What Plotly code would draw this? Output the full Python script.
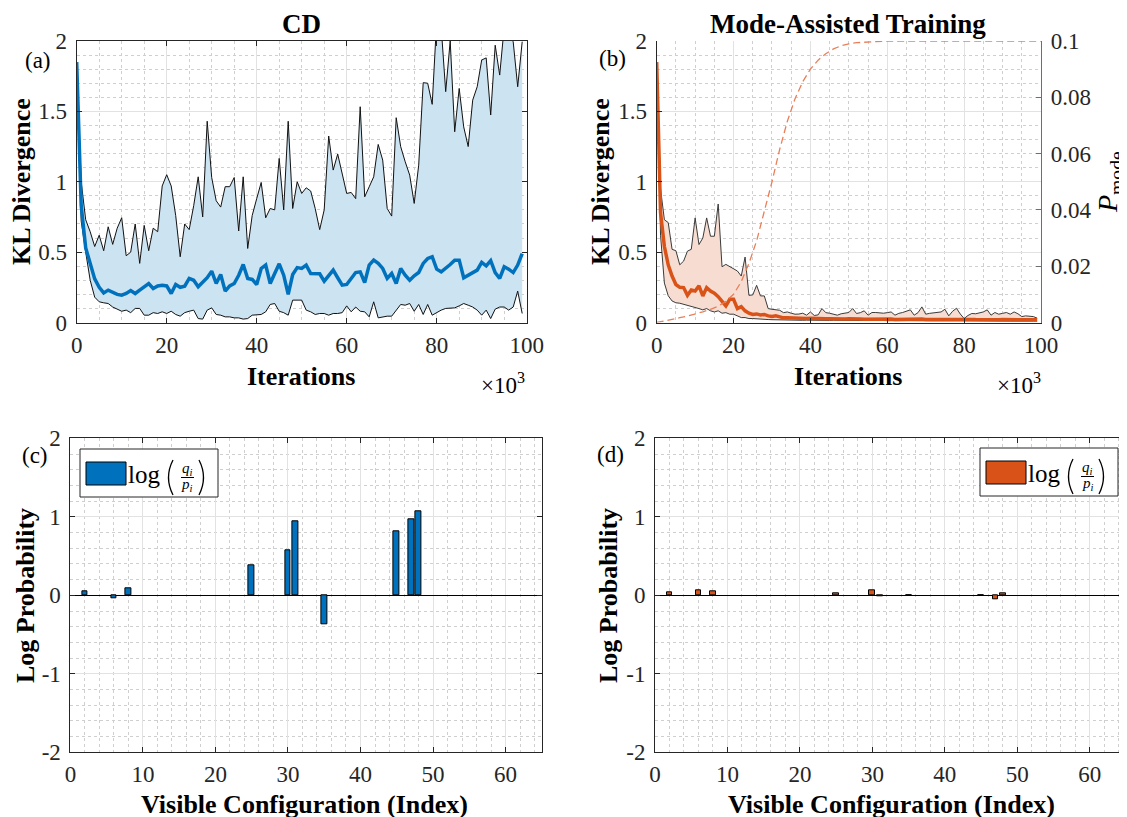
import plotly.graph_objects as go

W, H = 1127, 817
OFF = 8  # page body margin of the browser: figure is drawn 8px right/down
SERIF = "Liberation Serif"
BLUE = "#0072BD"
ORANGE = "#D95319"
BLUE_FILL = "#CCE3F2"
ORANGE_FILL = "#F7DDD1"

# ---------------- data ----------------
ITER_K = list(range(100))  # iterations, in thousands

CD_MEAN = [1.85, 0.83, 0.53, 0.41, 0.31, 0.25, 0.21, 0.23, 0.213, 0.20,
           0.194, 0.206, 0.227, 0.206, 0.23, 0.254, 0.277, 0.242, 0.26, 0.265,
           0.26, 0.206, 0.27, 0.25, 0.258, 0.313, 0.30, 0.254, 0.29, 0.318,
           0.365, 0.277, 0.341, 0.223, 0.26, 0.277, 0.336, 0.412, 0.313, 0.306,
           0.27, 0.384, 0.408, 0.277, 0.348, 0.417, 0.336, 0.20, 0.341, 0.39,
           0.384, 0.408, 0.348, 0.348, 0.346, 0.294, 0.336, 0.372, 0.318, 0.265,
           0.27, 0.313, 0.355, 0.36, 0.284, 0.408, 0.443, 0.42, 0.384, 0.313,
           0.348, 0.277, 0.384, 0.336, 0.30, 0.332, 0.355, 0.42, 0.455, 0.467,
           0.379, 0.36, 0.384, 0.412, 0.443, 0.443, 0.318, 0.336, 0.348, 0.372,
           0.427, 0.403, 0.44, 0.355, 0.313, 0.396, 0.379, 0.355, 0.408, 0.49]

CD_UPPER = [1.85, 1.0, 0.73, 0.645, 0.54, 0.62, 0.51, 0.68, 0.555, 0.67,
            0.744, 0.474, 0.50, 0.70, 0.42, 0.69, 0.51, 0.67, 0.645, 0.97,
            1.05, 0.97, 0.76, 0.467, 0.70, 0.66, 0.83, 1.035, 0.75, 1.43,
            1.03, 0.865, 0.82, 0.965, 0.965, 1.03, 0.65, 1.035, 0.526, 0.76,
            0.88, 0.995, 0.744, 0.81, 0.80, 1.166, 0.80, 1.43, 0.81, 1.0,
            0.917, 0.957, 0.934, 0.81, 0.66, 0.80, 1.325, 1.083, 1.197, 1.047,
            0.917, 0.924, 0.88, 1.533, 0.893, 0.964, 1.035, 1.265, 1.154, 0.81,
            0.756, 1.455, 1.249, 1.142, 1.047, 0.846, 1.118, 1.704, 1.70, 1.55,
            2.15, 2.1, 1.64, 2.0, 1.355, 1.663, 1.39, 1.25, 1.58, 1.675,
            1.865, 1.88, 1.474, 1.97, 1.758, 2.1, 2.03, 1.995, 1.675, 1.995]

CD_LOWER = [1.85, 0.72, 0.50, 0.30, 0.18, 0.147, 0.14, 0.135, 0.11, 0.095,
            0.08, 0.088, 0.07, 0.10, 0.10, 0.052, 0.052, 0.07, 0.064, 0.076,
            0.064, 0.08, 0.057, 0.045, 0.07, 0.08, 0.088, 0.028, 0.024, 0.088,
            0.104, 0.057, 0.052, 0.04, 0.04, 0.033, 0.033, 0.024, 0.028, 0.052,
            0.052, 0.057, 0.076, 0.128, 0.135, 0.08, 0.07, 0.052, 0.159, 0.159,
            0.159, 0.088, 0.076, 0.057, 0.064, 0.064, 0.052, 0.064, 0.064, 0.07,
            0.118, 0.076, 0.11, 0.08, 0.076, 0.04, 0.147, 0.033, 0.04, 0.045,
            0.045, 0.088, 0.128, 0.123, 0.135, 0.08, 0.128, 0.057, 0.128, 0.052,
            0.071, 0.088, 0.10, 0.10, 0.104, 0.118, 0.135, 0.123, 0.11, 0.088,
            0.052, 0.088, 0.028, 0.095, 0.11, 0.11, 0.088, 0.11, 0.223, 0.064]

MA_MEAN = [1.85, 0.78, 0.54, 0.41, 0.33, 0.27, 0.25, 0.248, 0.193, 0.231,
           0.224, 0.26, 0.189, 0.248, 0.224, 0.208, 0.184, 0.153, 0.118, 0.165,
           0.165, 0.099, 0.113, 0.083, 0.066, 0.057, 0.061, 0.054, 0.057, 0.047,
           0.042, 0.047, 0.040, 0.033, 0.033, 0.031, 0.030, 0.031, 0.029, 0.028,
           0.030, 0.028, 0.027, 0.029, 0.026, 0.027, 0.025, 0.026, 0.024, 0.025,
           0.026, 0.027, 0.024, 0.025, 0.023, 0.024, 0.025, 0.023, 0.024, 0.022,
           0.023, 0.024, 0.022, 0.023, 0.024, 0.022, 0.023, 0.021, 0.022, 0.024,
           0.022, 0.021, 0.022, 0.023, 0.021, 0.022, 0.021, 0.022, 0.023, 0.021,
           0.020, 0.021, 0.022, 0.021, 0.020, 0.021, 0.022, 0.020, 0.021, 0.020,
           0.021, 0.020, 0.021, 0.020, 0.019, 0.020, 0.019, 0.020, 0.019, 0.019]

MA_UPPER = [1.85, 0.95, 0.73, 0.71, 0.52, 0.51, 0.41, 0.436, 0.507, 0.52,
            0.743, 0.554, 0.60, 0.743, 0.613, 0.613, 0.842, 0.396, 0.413, 0.396,
            0.377, 0.366, 0.33, 0.465, 0.193, 0.196, 0.264, 0.189, 0.189, 0.099,
            0.094, 0.09, 0.087, 0.07, 0.075, 0.066, 0.059, 0.060, 0.066, 0.052,
            0.075, 0.050, 0.054, 0.099, 0.07, 0.066, 0.059, 0.052, 0.062, 0.064,
            0.071, 0.099, 0.064, 0.070, 0.083, 0.052, 0.071, 0.071, 0.068, 0.066,
            0.070, 0.075, 0.052, 0.065, 0.071, 0.078, 0.090, 0.052, 0.070, 0.111,
            0.059, 0.065, 0.068, 0.071, 0.075, 0.094, 0.047, 0.080, 0.101, 0.060,
            0.028, 0.050, 0.064, 0.062, 0.066, 0.075, 0.090, 0.052, 0.071, 0.059,
            0.065, 0.071, 0.059, 0.075, 0.062, 0.042, 0.047, 0.045, 0.042, 0.031]

MA_LOWER = [1.85, 0.62, 0.28, 0.19, 0.153, 0.14, 0.137, 0.13, 0.12, 0.118,
            0.106, 0.099, 0.09, 0.099, 0.083, 0.075, 0.083, 0.066, 0.07, 0.059,
            0.059, 0.047, 0.035, 0.035, 0.028, 0.028, 0.025, 0.024, 0.022, 0.021,
            0.020, 0.019, 0.019, 0.018, 0.018, 0.017, 0.018, 0.017, 0.016, 0.017,
            0.016, 0.016, 0.015, 0.016, 0.015, 0.015, 0.016, 0.015, 0.014, 0.015,
            0.015, 0.014, 0.015, 0.014, 0.014, 0.015, 0.014, 0.013, 0.014, 0.014,
            0.013, 0.014, 0.013, 0.013, 0.014, 0.013, 0.013, 0.012, 0.013, 0.013,
            0.012, 0.013, 0.012, 0.012, 0.013, 0.012, 0.012, 0.011, 0.012, 0.012,
            0.011, 0.012, 0.011, 0.011, 0.012, 0.011, 0.011, 0.010, 0.011, 0.011,
            0.010, 0.011, 0.010, 0.010, 0.011, 0.010, 0.010, 0.010, 0.010, 0.010]

PMODE_ITER_K = list(range(0, 101, 2))
PMODE = [0.0, 0.0005, 0.0011, 0.0017, 0.0023, 0.0030, 0.0038, 0.0047, 0.0058, 0.0075,
         0.0100, 0.0145, 0.0210, 0.0290, 0.0390, 0.0500, 0.0615, 0.0715, 0.0795, 0.0855,
         0.0900, 0.0932, 0.0955, 0.0972, 0.0983, 0.0990, 0.0994, 0.0996, 0.0998, 0.0999,
         0.1, 0.1, 0.1, 0.1, 0.1, 0.1, 0.1, 0.1, 0.1, 0.1,
         0.1, 0.1, 0.1, 0.1, 0.1, 0.1, 0.1, 0.1, 0.1, 0.1, 0.1]

CONFIG_INDEX = [2, 6, 8, 25, 30, 31, 35, 45, 47, 48]
CD_LOGRATIO = [0.055, -0.035, 0.094, 0.387, 0.579, 0.94, -0.37, 0.81, 0.966, 1.068]
MA_LOGRATIO = [0.04, 0.06, 0.05, 0.03, 0.07, -0.008, -0.004, -0.004, -0.05, 0.02]

KL_TICKS = [0, 0.5, 1, 1.5, 2]
KL_TICKTEXT = ["0", "0.5", "1", "1.5", "2"]
ITER_TICKS = [0, 20, 40, 60, 80, 100]
ITER_TICKTEXT = ["0", "20", "40", "60", "80", "100"]
PM_TICKS = [0, 0.02, 0.04, 0.06, 0.08, 0.1]
PM_TICKTEXT = ["0", "0.02", "0.04", "0.06", "0.08", "0.1"]
LP_TICKS = [-2, -1, 0, 1, 2]
LP_TICKTEXT = ["-2", "-1", "0", "1", "2"]
IDX_TICKS = [0, 10, 20, 30, 40, 50, 60]
IDX_TICKTEXT = ["0", "10", "20", "30", "40", "50", "60"]


def px(x):
    return (x - OFF) / W


def py(y):
    return 1 - (y - OFF) / H


GRID = "#E2E2E2"
MINOR = "#CFCFCF"
AXC = "#262626"
TICKSIZE = 23


def axis(domain, rng, tickvals, ticktext, minor_dtick, mirror, **kw):
    d = dict(domain=domain, range=rng, tickvals=tickvals, ticktext=ticktext,
             showline=True, linecolor=AXC, linewidth=1, mirror=mirror,
             ticks="inside", ticklen=5, tickwidth=1, tickcolor=AXC,
             showgrid=True, gridcolor=GRID, gridwidth=1, zeroline=False,
             automargin=False,
             tickfont=dict(family=SERIF, size=TICKSIZE, color=AXC),
             minor=dict(dtick=minor_dtick, showgrid=True, gridcolor=MINOR,
                        griddash="dot", gridwidth=1, ticks=""),
             fixedrange=True)
    d.update(kw)
    return d


fig = go.Figure()


def band(x, lo, hi, mean, fill, edge, color, xa, ya):
    fig.add_trace(go.Scatter(x=x, y=lo, mode="lines", line=dict(width=0),
                             xaxis=xa, yaxis=ya, showlegend=False, hoverinfo="skip"))
    fig.add_trace(go.Scatter(x=x, y=hi, mode="lines", line=dict(width=0), fill="tonexty",
                             fillcolor=fill, xaxis=xa, yaxis=ya, showlegend=False,
                             hoverinfo="skip"))
    fig.add_trace(go.Scatter(x=x, y=lo, mode="lines", line=dict(color=edge, width=1),
                             xaxis=xa, yaxis=ya, showlegend=False))
    fig.add_trace(go.Scatter(x=x, y=hi, mode="lines", line=dict(color=edge, width=1),
                             xaxis=xa, yaxis=ya, showlegend=False))
    fig.add_trace(go.Scatter(x=x, y=mean, mode="lines", line=dict(color=color, width=3.5),
                             xaxis=xa, yaxis=ya, showlegend=False))


band(ITER_K, CD_LOWER, CD_UPPER, CD_MEAN, BLUE_FILL, "#111111", BLUE, "x", "y")
band(ITER_K, MA_LOWER, MA_UPPER, MA_MEAN, ORANGE_FILL, "#3A3A3A", ORANGE, "x2", "y2")
fig.add_trace(go.Scatter(x=PMODE_ITER_K, y=PMODE, mode="lines",
                         line=dict(color="rgba(232,120,80,0.95)", width=1.3, dash="7px,4px"),
                         xaxis="x2", yaxis="y5", showlegend=False))

fig.add_trace(go.Bar(x=CONFIG_INDEX, y=CD_LOGRATIO, width=0.8,
                     marker=dict(color=BLUE, line=dict(color="black", width=1)),
                     xaxis="x3", yaxis="y3", showlegend=False))
fig.add_trace(go.Bar(x=CONFIG_INDEX, y=MA_LOGRATIO, width=0.8,
                     marker=dict(color=ORANGE, line=dict(color="black", width=1)),
                     xaxis="x4", yaxis="y4", showlegend=False))

A_X = [px(76.7), px(526.7)]
B_X = [px(656.7), px(1041)]
TOP_Y = [py(322.5), py(41)]
C_X = [px(70.4), px(541.8)]
D_X = [px(655), px(1126)]
BOT_Y = [py(752.3), py(438.3)]

fig.update_layout(
    template="none",
    width=W, height=H, margin=dict(l=0, r=0, t=0, b=0, pad=0, autoexpand=False),
    paper_bgcolor="white", plot_bgcolor="white", showlegend=False,
    font=dict(family=SERIF, size=TICKSIZE, color=AXC),
    bargap=0,
    xaxis=axis(A_X, [0, 100], ITER_TICKS, ITER_TICKTEXT, 5, "ticks", anchor="y", ticklabelstandoff=2),
    yaxis=axis(TOP_Y, [0, 2], KL_TICKS, KL_TICKTEXT, 0.1, "ticks", anchor="x", ticklabelstandoff=4),
    xaxis2=axis(B_X, [0, 100], ITER_TICKS, ITER_TICKTEXT, 5, False, anchor="y2", ticklabelstandoff=2),
    yaxis2=axis(TOP_Y, [0, 2], KL_TICKS, KL_TICKTEXT, 0.1, False, anchor="x2", ticklabelstandoff=4),
    yaxis5=dict(domain=TOP_Y, range=[0, 0.1], overlaying="y2", side="right", anchor="x2",
                tickvals=PM_TICKS, ticktext=PM_TICKTEXT, showline=True, linecolor="#6E6E6E",
                linewidth=1.2, ticks="inside", ticklen=5, tickcolor="#6E6E6E", showgrid=False,
                zeroline=False, automargin=False,
                tickfont=dict(family=SERIF, size=TICKSIZE, color=AXC),
                ticklabelstandoff=4, fixedrange=True),
    xaxis3=axis(C_X, [0, 65], IDX_TICKS, IDX_TICKTEXT, 2, "ticks", anchor="y3", ticklabelstandoff=1),
    yaxis3=axis(BOT_Y, [-2, 2], LP_TICKS, LP_TICKTEXT, 0.2, "ticks", anchor="x3", ticklabelstandoff=4,
                zeroline=True, zerolinecolor="black", zerolinewidth=1),
    xaxis4=axis(D_X, [0, 65], IDX_TICKS, IDX_TICKTEXT, 2, "ticks", anchor="y4", ticklabelstandoff=1),
    yaxis4=axis(BOT_Y, [-2, 2], LP_TICKS, LP_TICKTEXT, 0.2, "ticks", anchor="x4", ticklabelstandoff=4,
                zeroline=True, zerolinecolor="black", zerolinewidth=1),
)

ann = []


def text(x, y, s, size=22, bold=False, angle=0, xanchor="center", yanchor="middle", color="black"):
    if bold:
        s = "<b>" + s + "</b>"
    ann.append(dict(x=px(x), y=py(y), xref="paper", yref="paper", text=s, showarrow=False,
                    textangle=angle, xanchor=xanchor, yanchor=yanchor,
                    font=dict(family=SERIF, size=size, color=color)))


# titles
text(301, 24, "CD", 27, True)
text(848, 24, "Mode-Assisted Training", 27, True)
# y titles
text(21, 182, "KL Divergence", 26, True, -90)
text(600, 182, "KL Divergence", 26, True, -90)
text(25, 596, "Log Probability", 26, True, -90)
text(608, 596, "Log Probability", 26, True, -90)
text(1109, 182, "<i>P</i><sub>mode</sub>", 28, False, -90)
# x titles
text(301, 376, "Iterations", 26, True)
text(848, 376, "Iterations", 26, True)
text(305, 804, "Visible Configuration (Index)", 26, True)
text(891, 804, "Visible Configuration (Index)", 26, True)
# x10^3
text(527, 383, "×10<sup>3</sup>", 23, xanchor="right")
text(1043, 383, "×10<sup>3</sup>", 23, xanchor="right")
# panel labels
text(38, 61, "(a)", 23)
text(612, 59, "(b)", 23)
text(35, 455, "(c)", 23)
text(611, 454, "(d)", 23)

shapes = []


def paren(xo, xi, ytop, ybot):
    ym = (ytop + ybot) / 2
    return dict(type="path", xref="paper", yref="paper", layer="above",
                path=f"M {px(xi)},{py(ytop)} Q {px(xo)},{py(ym)} {px(xi)},{py(ybot)}",
                line=dict(color="black", width=1.3))


def legend(x0, y0, color):
    shapes.append(dict(type="rect", xref="paper", yref="paper", x0=px(x0), x1=px(x0 + 138),
                       y0=py(y0), y1=py(y0 + 48), line=dict(color="#262626", width=1),
                       fillcolor="white", layer="above"))
    shapes.append(dict(type="rect", xref="paper", yref="paper", x0=px(x0 + 6), x1=px(x0 + 46),
                       y0=py(y0 + 13), y1=py(y0 + 36), line=dict(color="black", width=1),
                       fillcolor=color, layer="above"))
    shapes.append(dict(type="line", xref="paper", yref="paper", x0=px(x0 + 101), x1=px(x0 + 114),
                       y0=py(y0 + 28.5), y1=py(y0 + 28.5), line=dict(color="black", width=1),
                       layer="above"))
    shapes.append(paren(x0 + 84, x0 + 93, y0 + 11, y0 + 46))
    shapes.append(paren(x0 + 128, x0 + 119, y0 + 11, y0 + 46))
    text(x0 + 64, y0 + 25, "log", 25)
    text(x0 + 107.5, y0 + 20, "<i>q<sub>i</sub></i>", 15)
    text(x0 + 107.5, y0 + 36, "<i>p<sub>i</sub></i>", 15)


legend(80, 449, BLUE)
legend(980, 448, ORANGE)

fig.update_layout(annotations=ann, shapes=shapes)
fig.write_html("out.html")
